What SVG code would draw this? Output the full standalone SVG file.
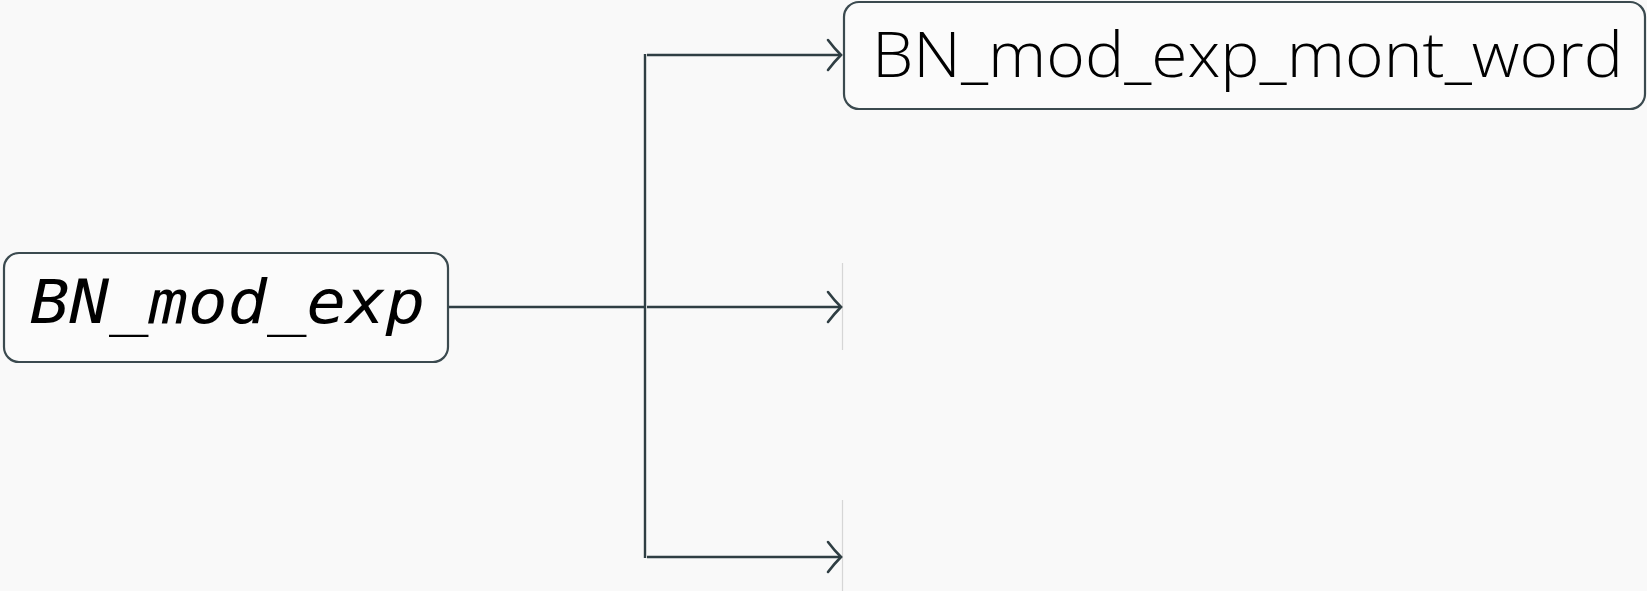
<svg xmlns="http://www.w3.org/2000/svg" width="1647" height="591" viewBox="0 0 1647 591">
<defs>
<style>
.node{fill:#fbfbfb;stroke:#3b4a4f;stroke-width:2.2}
.edge{fill:none;stroke:#2f3e43;stroke-width:2.4}
.faint{stroke:#d6d6d6;stroke-width:1.2}
.t1{font-family:"DejaVu Sans Mono",monospace;font-style:italic;font-size:61px;fill:#000}
.t2{font-family:"Open Sans","Noto Sans",sans-serif;font-weight:300;font-size:63px;fill:#000}
</style>
<marker id="arr" markerUnits="userSpaceOnUse" markerWidth="20" markerHeight="34" refX="16" refY="17" orient="auto" viewBox="0 0 20 34">
<path d="M3 2 Q9 10 16 17 Q9 24 3 32" fill="none" stroke="#2f3e43" stroke-width="2.6" stroke-linecap="round"/>
</marker>
</defs>
<rect width="1647" height="591" fill="#f9f9f9"/>
<g id="faint">
<line class="faint" x1="842.5" y1="263" x2="842.5" y2="350"/>
<line class="faint" x1="842.5" y1="500" x2="842.5" y2="591"/>
</g>
<g id="connectors">
<path class="edge" d="M448 307 H645"/>
<path class="edge" d="M645 54 V558"/>
<path class="edge" d="M647 55 H841" marker-end="url(#arr)"/>
<path class="edge" d="M647 307 H841" marker-end="url(#arr)"/>
<path class="edge" d="M647 557 H841" marker-end="url(#arr)"/>
</g>
<g id="node-BN_mod_exp">
<rect class="node" x="4" y="253" width="444" height="109" rx="15"/>
<text class="t1" x="30" y="323" textLength="395" lengthAdjust="spacingAndGlyphs">BN_mod_exp</text>
</g>
<g id="node-BN_mod_exp_mont_word">
<rect class="node" x="844" y="2" width="801" height="107" rx="15"/>
<text class="t2" x="872" y="77" textLength="751" lengthAdjust="spacingAndGlyphs">BN_mod_exp_mont_word</text>
</g>
</svg>
